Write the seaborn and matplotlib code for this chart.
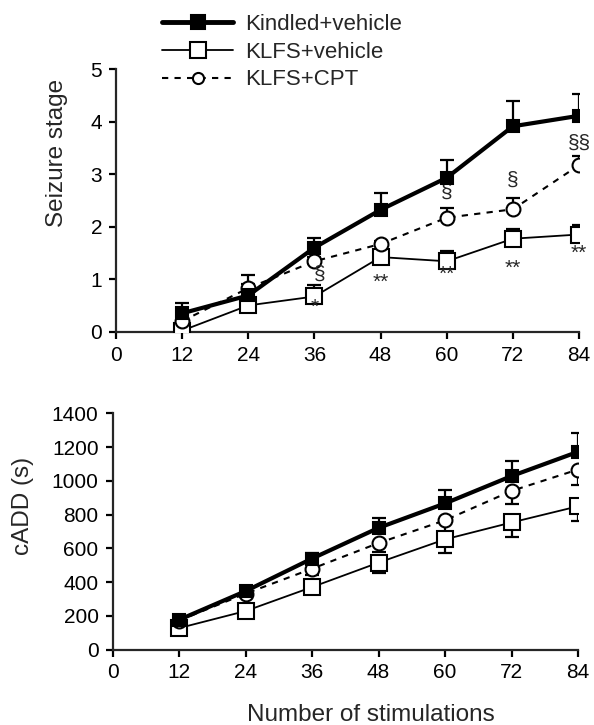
import numpy as np
import pandas as pd
import matplotlib
matplotlib.use("Agg")
import matplotlib.pyplot as plt
import seaborn as sns
from matplotlib.lines import Line2D

sns.set_style("ticks")
plt.rcParams['font.family'] = ['Liberation Sans', 'DejaVu Sans']

stims = [12, 24, 36, 48, 60, 72, 84]
x_ticks = [0, 12, 24, 36, 48, 60, 72, 84]
series = ["Kindled+vehicle", "KLFS+vehicle", "KLFS+CPT"]

# Seizure stage (top)
stage_kindled = [0.35, 0.69, 1.60, 2.32, 2.93, 3.91, 4.11]
stage_kindled_err = [0.20, 0.38, 0.19, 0.32, 0.33, 0.48, 0.41]
stage_vehicle = [0.02, 0.50, 0.67, 1.42, 1.34, 1.77, 1.85]
stage_vehicle_err = [0.05, 0.06, 0.21, 0.06, 0.19, 0.19, 0.19]
stage_cpt = [0.20, 0.83, 1.34, 1.67, 2.17, 2.33, 3.17]
stage_cpt_err = [0.08, 0.08, 0.08, 0.06, 0.18, 0.22, 0.17]

# cADD (bottom)
cadd_kindled = [176, 346, 539, 721, 866, 1028, 1172]
cadd_kindled_err = [20, 22, 33, 61, 78, 90, 109]
cadd_vehicle = [127, 228, 370, 515, 653, 753, 849]
cadd_vehicle_err = [15, 15, 20, 62, 81, 86, 87]
cadd_cpt = [172, 331, 479, 631, 766, 940, 1067]
cadd_cpt_err = [10, 20, 40, 55, 85, 79, 89]

# significance marks: (x, y, text)
ann_x = [36.1, 37.0, 48.0, 60.0, 60.0, 72.0, 72.0, 84.0, 84.0]
ann_y = [0.46, 1.10, 0.94, 2.66, 1.10, 2.88, 1.20, 3.59, 1.49]
ann_t = ["*", "§", "**", "§", "**", "§", "**", "§§", "**"]

styles = {
    "Kindled+vehicle": dict(lw=3.0, ls="-", marker="s", mfc="black", ms=9),
    "KLFS+vehicle": dict(lw=1.3, ls="-", marker="s", mfc="white", ms=11),
    "KLFS+CPT": dict(lw=1.5, ls=(0, (3, 3)), marker="o", mfc="white", ms=10),
}

fig = plt.figure(figsize=(5.94, 7.25), dpi=100)
ax1 = fig.add_axes([0.1953, 0.5425, 0.7795, 0.3623])
ax2 = fig.add_axes([0.1894, 0.1041, 0.7837, 0.3258])

def draw(ax, vals, errs, dirs):
    for name, v, e, d in zip(series, vals, errs, dirs):
        e = np.array(e, dtype=float)
        z = np.zeros_like(e)
        yerr = [z, e] if d > 0 else [e, z]
        ax.errorbar(stims, v, yerr=yerr, fmt="none", ecolor="black",
                    elinewidth=1.6, capsize=5, capthick=1.6, zorder=2)
    for name, v in zip(series, vals):
        st = styles[name]
        df = pd.DataFrame({"x": stims, "y": v})
        sns.lineplot(data=df, x="x", y="y", ax=ax, color="black",
                     linewidth=st["lw"], linestyle=st["ls"], marker=st["marker"],
                     markersize=st["ms"], markerfacecolor=st["mfc"],
                     markeredgecolor="black", markeredgewidth=1.5,
                     zorder=3 if name != "Kindled+vehicle" else 4)

draw(ax1, [stage_kindled, stage_vehicle, stage_cpt],
     [stage_kindled_err, stage_vehicle_err, stage_cpt_err], [1, 1, 1])
draw(ax2, [cadd_kindled, cadd_vehicle, cadd_cpt],
     [cadd_kindled_err, cadd_vehicle_err, cadd_cpt_err], [1, -1, -1])

for xx, yy, t in zip(ann_x, ann_y, ann_t):
    ax1.text(xx, yy, t, ha="center", va="center", fontsize=15)

for ax in (ax1, ax2):
    ax.set_xlim(0, 84)
    ax.set_xticks(x_ticks)
    ax.set_xticklabels([str(t) for t in x_ticks])
    sns.despine(ax=ax)
    ax.spines["left"].set_linewidth(1.6)
    ax.spines["bottom"].set_linewidth(1.6)
    ax.tick_params(axis="both", direction="out", length=5, width=1.6,
                   labelsize=15, colors="black", pad=5)
    ax.set_xlabel("")

ax1.set_ylim(0, 5)
ax1.set_yticks([0, 1, 2, 3, 4, 5])
ax1.set_ylabel("Seizure stage", fontsize=17.5)
ax1.yaxis.set_label_coords(-0.104, 0.68)
ax2.set_ylim(0, 1400)
ax2.set_yticks(range(0, 1401, 200))
ax2.set_ylabel("cADD (s)", fontsize=17.5)
ax2.yaxis.set_label_coords(-0.168, 0.61)
fig.text(0.625, 1 - 715 / 725, "Number of stimulations", ha="center", va="center", fontsize=17.5)

handles = []
for name in series:
    st = styles[name]
    handles.append(Line2D([], [], color="black", lw=st["lw"] + 0.5 if name == "Kindled+vehicle" else st["lw"],
                          ls=st["ls"], marker=st["marker"],
                          ms={"Kindled+vehicle": 10, "KLFS+vehicle": 11, "KLFS+CPT": 8}[name],
                          mfc=st["mfc"], mec="black", mew=1.5))
fig.legend(handles, series, loc="upper left", bbox_to_anchor=(0.247, 1.002),
           frameon=False, fontsize=16, handlelength=3.2, handletextpad=0.55,
           labelspacing=0.3, borderaxespad=0.3)

fig.savefig("out.png", dpi=100)
